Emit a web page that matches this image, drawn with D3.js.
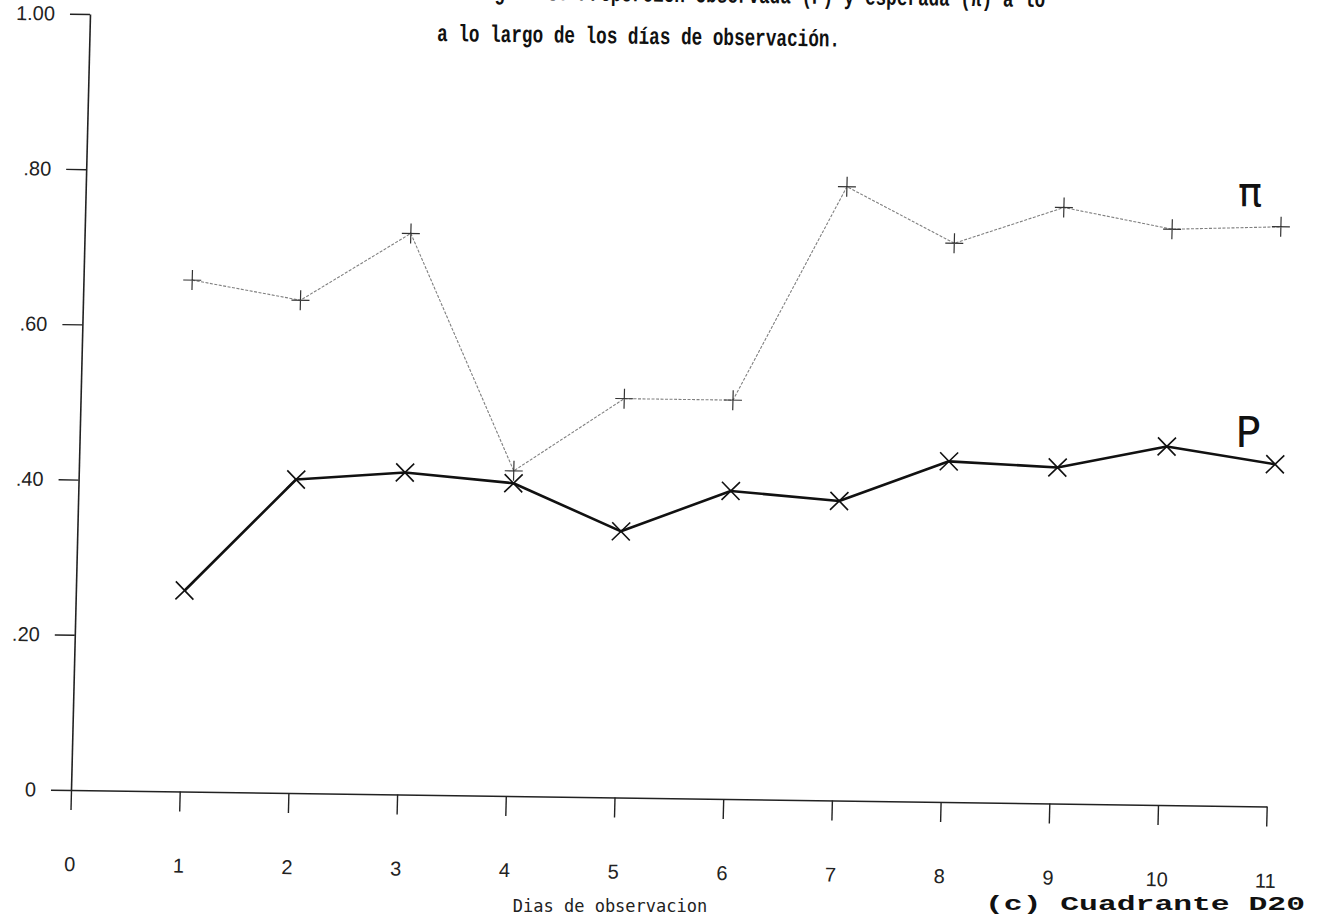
<!DOCTYPE html>
<html>
<head>
<meta charset="utf-8">
<script src="https://cdn.jsdelivr.net/npm/d3@7"></script>
<style>
  body { margin: 0; background: #fff; }
  svg { display: block; }
</style>
</head>
<body>
<svg id="chart" width="1333" height="921"></svg>
<script>
// ---- data ----
const days = [1, 2, 3, 4, 5, 6, 7, 8, 9, 10, 11];
const pValues  = [0.259, 0.404, 0.415, 0.403, 0.343, 0.397, 0.386, 0.439, 0.433, 0.462, 0.441];
const piValues = [0.659, 0.635, 0.723, 0.419, 0.514, 0.514, 0.791, 0.720, 0.768, 0.742, 0.747];
const xTicks = [0, 1, 2, 3, 4, 5, 6, 7, 8, 9, 10, 11];
const yTicks = [0, 0.2, 0.4, 0.6, 0.8, 1.0];
const yTickLabels = ["0", ".20", ".40", ".60", ".80", "1.00"];
const titleLine1 = "Figura 3. Proporción observada (P) y esperada (π) a lo";
const titleLine2 = "a lo largo de los días de observación.";
const xAxisTitle = "Dias de observacion";
const seriesLabels = { pi: "π", p: "P" };
const panelLabel = "(c) Cuadrante D20";

// ---- drawing ----
const svg = d3.select("#chart");
svg.append("rect").attr("width", 1333).attr("height", 921).attr("fill", "#fff");

const W = 1195.7, H = 776;
const x = d3.scaleLinear().domain([0, 11]).range([0, W]);
const y = d3.scaleLinear().domain([0, 1]).range([0, -H]);

// scanned page is slightly skewed: emulate with an affine transform
const skewB = 1.5 / 108.7, skewC = -19 / 776;
const g = svg.append("g").attr("transform", `matrix(1,${skewB},${skewC},1,71,790)`);

const tickFont = "Liberation Sans, Arial, sans-serif";

// X axis
const xAxis = d3.axisBottom(x).tickValues(xTicks).tickSize(20).tickSizeOuter(0)
  .tickPadding(47).tickFormat(d3.format("d"));
g.append("g").call(xAxis).call(s => {
  s.attr("font-size", null).attr("font-family", null);
  s.select(".domain").attr("stroke", "#222").attr("stroke-width", 1.6);
  s.selectAll(".tick line").attr("stroke", "#222").attr("stroke-width", 1.4);
  s.selectAll(".tick text").attr("font-family", tickFont).attr("font-size", 20).attr("fill", "#222");
});

// Y axis
const yAxis = d3.axisLeft(y).tickValues(yTicks).tickSize(20).tickSizeOuter(0)
  .tickPadding(15).tickFormat((d, i) => yTickLabels[i]);
g.append("g").call(yAxis).call(s => {
  s.attr("font-size", null).attr("font-family", null);
  s.select(".domain").attr("stroke", "#222").attr("stroke-width", 1.6);
  s.selectAll(".tick line").attr("stroke", "#222").attr("stroke-width", 1.4);
  s.selectAll(".tick text").attr("font-family", tickFont).attr("font-size", 20).attr("fill", "#222");
});

const piData = days.map((d, i) => ({ day: d, v: piValues[i] }));
const pData  = days.map((d, i) => ({ day: d, v: pValues[i] }));
const line = d3.line().x(d => x(d.day)).y(d => y(d.v));

// Pi series: thin grey dotted line with + markers
g.append("path").datum(piData).attr("d", line)
  .attr("fill", "none").attr("stroke", "#808080").attr("stroke-width", 1.1)
  .attr("stroke-dasharray", "3 1.5");
g.selectAll(".pimark").data(piData).join("path").attr("class", "pimark")
  .attr("transform", d => `translate(${x(d.day)},${y(d.v)})`)
  .attr("d", "M-9,0H9M0,-10V10")
  .attr("stroke", "#333").attr("stroke-width", 1.2).attr("fill", "none");

// P series: thick black line with x markers
g.append("path").datum(pData).attr("d", line)
  .attr("fill", "none").attr("stroke", "#111").attr("stroke-width", 2.6)
  .attr("stroke-linejoin", "round");
g.selectAll(".pmark").data(pData).join("path").attr("class", "pmark")
  .attr("transform", d => `translate(${x(d.day)},${y(d.v)})`)
  .attr("d", "M-9,-9L9,9M-9,9L9,-9")
  .attr("stroke", "#111").attr("stroke-width", 1.6).attr("fill", "none");

// Series labels
svg.append("text").attr("x", 1250).attr("y", 206).attr("text-anchor", "middle")
  .attr("font-family", "DejaVu Sans, sans-serif").attr("font-size", 40).attr("fill", "#111")
  .text(seriesLabels.pi);
svg.append("text").attr("x", 1248).attr("y", 447).attr("text-anchor", "middle")
  .attr("font-family", "DejaVu Sans, sans-serif").attr("font-size", 42).attr("fill", "#111")
  .text(seriesLabels.p);

// Titles (typewriter, slightly tilted like the scan)
const tilt = Math.atan(skewB) * 180 / Math.PI;
svg.append("text").attr("x", 1045).attr("y", 7).attr("text-anchor", "end")
  .attr("transform", `rotate(${tilt},1045,7)`)
  .attr("font-family", "Liberation Mono, Courier New, monospace").attr("font-weight", "bold")
  .attr("font-size", 24).attr("textLength", 572).attr("lengthAdjust", "spacingAndGlyphs")
  .attr("fill", "#111").text(titleLine1);
svg.append("text").attr("x", 437).attr("y", 41)
  .attr("transform", `rotate(${tilt},437,41)`)
  .attr("font-family", "Liberation Mono, Courier New, monospace").attr("font-weight", "bold")
  .attr("font-size", 24).attr("textLength", 403).attr("lengthAdjust", "spacingAndGlyphs")
  .attr("fill", "#111").text(titleLine2);

// X axis title
svg.append("text").attr("x", 610).attr("y", 912).attr("text-anchor", "middle")
  .attr("font-family", "DejaVu Sans Mono, monospace").attr("font-size", 17).attr("fill", "#222")
  .text(xAxisTitle);

// Panel label near the bottom edge
svg.append("text").attr("x", 985).attr("y", 910)
  .attr("font-family", "Liberation Mono, Courier New, monospace").attr("font-weight", "bold")
  .attr("font-size", 20).attr("textLength", 320).attr("lengthAdjust", "spacingAndGlyphs")
  .attr("fill", "#111").text(panelLabel);
</script>
</body>
</html>
